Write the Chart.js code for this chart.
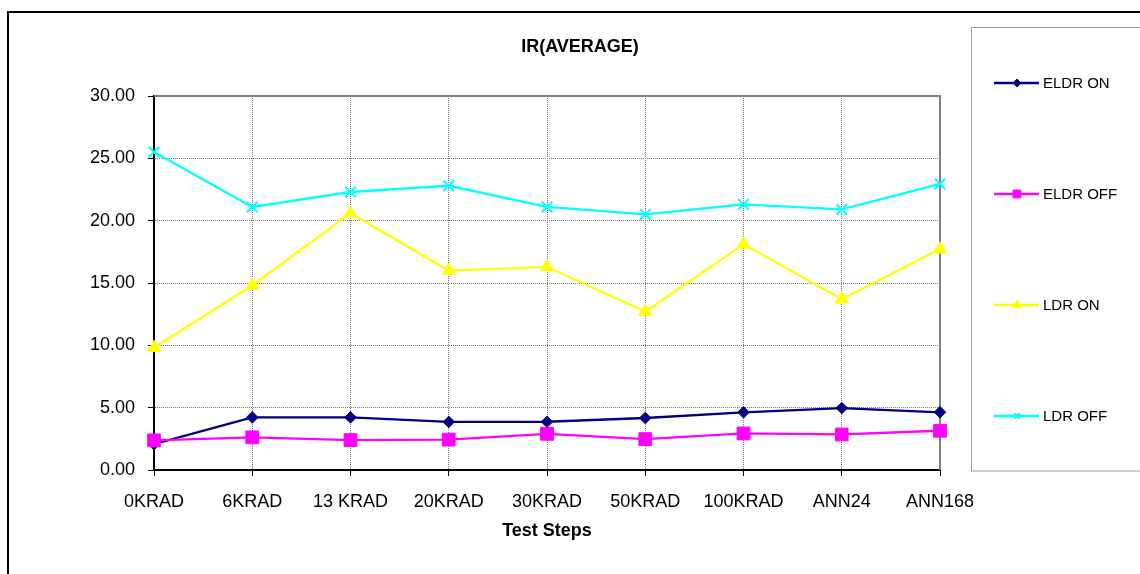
<!DOCTYPE html>
<html>
<head>
<meta charset="utf-8">
<script src="https://cdn.jsdelivr.net/npm/chart.js@4/dist/chart.umd.min.js"></script>
<style>
  html, body { margin: 0; padding: 0; background: #fff; overflow: hidden; }
  #wrap { width: 1140px; height: 574px; position: relative; }
  canvas { display: block; }
</style>
</head>
<body>
<div id="wrap"><canvas id="c" width="1140" height="574"></canvas></div>
<script>
// ---- data ----
const chartTitle = 'IR(AVERAGE)';
const xAxisTitle = 'Test Steps';
const categories = ['0KRAD', '6KRAD', '13 KRAD', '20KRAD', '30KRAD', '50KRAD', '100KRAD', 'ANN24', 'ANN168'];
const seriesNames = ['ELDR ON', 'ELDR OFF', 'LDR ON', 'LDR OFF'];
const eldrOn  = [2.08, 4.22, 4.22, 3.86, 3.87, 4.17, 4.63, 4.97, 4.63];
const eldrOff = [2.38, 2.62, 2.40, 2.44, 2.90, 2.48, 2.93, 2.85, 3.15];
const ldrOn   = [9.8, 14.8, 20.6, 16.0, 16.3, 12.7, 18.1, 13.7, 17.7];
const ldrOff  = [25.5, 21.1, 22.3, 22.8, 21.1, 20.5, 21.3, 20.9, 22.95];
const yMin = 0, yMax = 30, yStep = 5;

const FONT = "'Liberation Sans', Arial, Helvetica, sans-serif";
const GRID_DASH = [1, 1];
const GRID_COLOR = '#747474';

function ds(label, data, color, style, radius, order, legendRadius, pbw) {
  return {
    label, data,
    borderColor: color, backgroundColor: color,
    pointBackgroundColor: color, pointBorderColor: color,
    pointStyle: style, pointRadius: radius, pointHoverRadius: radius,
    pointBorderWidth: pbw,
    borderWidth: 2.3, tension: 0, fill: false, clip: false, order,
    legendRadius
  };
}

const datasets = [
  ds(seriesNames[0], eldrOn,  '#000080', 'rectRot',  5.8, 4, 4, 1),
  ds(seriesNames[1], eldrOff, '#FF00FF', 'rect',     9,   3, 5.5, 1),
  ds(seriesNames[2], ldrOn,   '#FFFF00', 'triangle', 7.5, 2, 5, 1),
  ds(seriesNames[3], ldrOff,  '#00FFFF', 'crossRot', 7.5, 1, 4, 2)
];

const decor = {
  id: 'decor',
  beforeDatasetsDraw(chart) {
    const c = chart.ctx, a = chart.chartArea;
    c.save();
    c.strokeStyle = '#808080'; c.lineWidth = 2; c.setLineDash([]);
    c.beginPath();
    c.moveTo(a.left, a.top); c.lineTo(a.right, a.top); c.lineTo(a.right, a.bottom);
    c.stroke();
    c.restore();
  },
  afterDraw(chart) {
    const c = chart.ctx;
    c.save();
    c.strokeStyle = '#000'; c.lineWidth = 2;
    c.strokeRect(8, 12, 1400, 1000);
    c.fillStyle = '#000';
    c.font = 'bold 18px ' + FONT;
    c.textAlign = 'center'; c.textBaseline = 'middle';
    c.fillText(chartTitle, 580, 47);
    c.strokeStyle = '#A0A0A0'; c.lineWidth = 1;
    c.strokeRect(971.5, 27.5, 400, 443.5);
    const ys = [83, 194, 305, 416];
    chart.data.datasets.forEach((d, i) => {
      const y = ys[i];
      c.strokeStyle = d.borderColor; c.lineWidth = 2.3;
      c.beginPath(); c.moveTo(994, y); c.lineTo(1039, y); c.stroke();
      c.fillStyle = d.pointBackgroundColor;
      c.strokeStyle = d.pointBorderColor;
      c.lineWidth = d.pointBorderWidth;
      if (Chart.helpers && Chart.helpers.drawPoint) {
        Chart.helpers.drawPoint(c, { pointStyle: d.pointStyle, radius: d.legendRadius, rotation: 0, borderWidth: d.pointBorderWidth }, 1017, y);
      }
      c.fillStyle = '#000';
      c.font = '15px ' + FONT;
      c.textAlign = 'left'; c.textBaseline = 'middle';
      c.fillText(d.label, 1043, y + 1);
    });
    c.restore();
  }
};

new Chart(document.getElementById('c'), {
  type: 'line',
  data: { labels: categories, datasets },
  plugins: [decor],
  options: {
    responsive: false,
    devicePixelRatio: 1,
    animation: false,
    layout: { padding: { left: 0, top: 96, right: 200, bottom: 0 } },
    plugins: { legend: { display: false }, title: { display: false }, tooltip: { enabled: false } },
    scales: {
      x: {
        type: 'category',
        offset: false,
        afterFit(s) { s.height = 104; },
        border: { display: true, color: '#000', width: 2, dash: GRID_DASH },
        grid: {
          color: (ctx) => (ctx.index === 0 || ctx.index === categories.length - 1) ? 'rgba(0,0,0,0)' : GRID_COLOR,
          lineWidth: 1,
          drawTicks: true, tickLength: 6, tickColor: '#000', tickWidth: 1, tickBorderDash: []
        },
        ticks: { color: '#000', font: { family: FONT, size: 18 }, padding: 15, maxRotation: 0, autoSkip: false },
        title: { display: true, text: xAxisTitle, color: '#000', font: { family: FONT, size: 18, weight: 'bold' }, padding: { top: 0, bottom: 32 } }
      },
      y: {
        min: yMin, max: yMax,
        afterFit(s) { s.width = 154; },
        border: { display: true, color: '#000', width: 2, dash: GRID_DASH },
        grid: {
          color: (ctx) => ctx.tick && (ctx.tick.value === yMin || ctx.tick.value === yMax) ? 'rgba(0,0,0,0)' : GRID_COLOR,
          lineWidth: 1,
          drawTicks: true, tickLength: 6, tickColor: '#000', tickWidth: 1, tickBorderDash: []
        },
        ticks: {
          stepSize: yStep, color: '#000', font: { family: FONT, size: 18 }, padding: 13,
          callback: (v) => Number(v).toFixed(2)
        }
      }
    }
  }
});
</script>
</body>
</html>
